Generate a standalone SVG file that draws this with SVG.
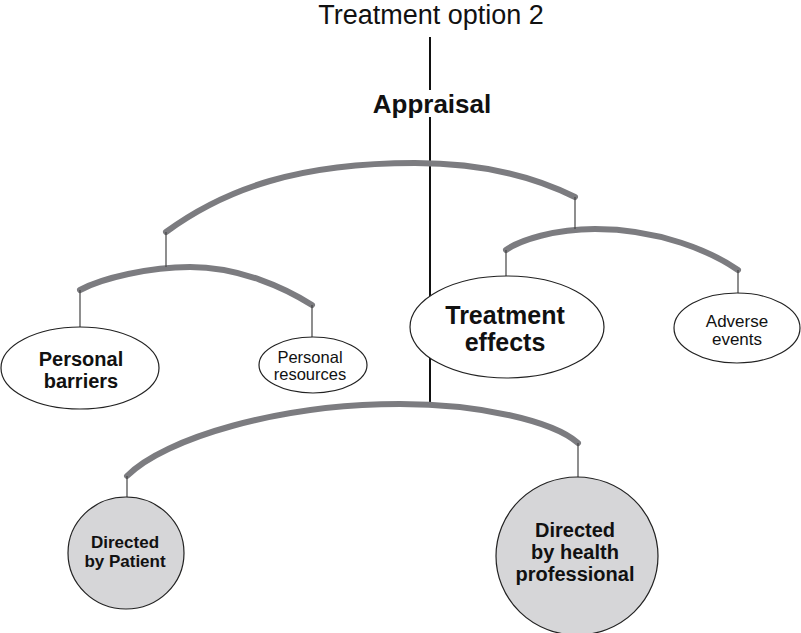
<svg xmlns="http://www.w3.org/2000/svg" width="801" height="633" viewBox="0 0 801 633">
<style>
.bar{fill:none;stroke:#7c7c80;stroke-width:6;stroke-linecap:round}
.hang{stroke:#444;stroke-width:1.2}
.main{stroke:#111;stroke-width:2}
.node{fill:#fff;stroke:#222;stroke-width:1.2}
.grey{fill:#d6d6d8;stroke:#222;stroke-width:1.2}
text{font-family:"Liberation Sans",Arial,sans-serif;fill:#111;text-anchor:middle}
.b{font-weight:bold}
</style>
<rect width="801" height="633" fill="#fff"/>
<g id="connectors">
<line class="main" x1="430" y1="37" x2="430" y2="90"/>
<line class="main" x1="430" y1="117" x2="430" y2="403"/>
<path class="bar" d="M166,232 C226,188 300,163 415,163 C470,163 525,172 575,197"/>
<path class="bar" d="M80,290 C102,278 150,267 190,267 C240,267 285,288 312,305"/>
<path class="bar" d="M506,250 C520,240 555,229 595,229 C660,229 712,252 738,270"/>
<path class="bar" d="M127,476 C165,438 280,404 400,404 C480,404 553,421 578,443"/>
<line class="hang" x1="166" y1="232" x2="166" y2="267"/>
<line class="hang" x1="575" y1="197" x2="575" y2="229"/>
<line class="hang" x1="80" y1="290" x2="80" y2="327"/>
<line class="hang" x1="312" y1="305" x2="312" y2="337"/>
<line class="hang" x1="506" y1="250" x2="506" y2="276"/>
<line class="hang" x1="738" y1="270" x2="738" y2="294"/>
<line class="hang" x1="127" y1="476" x2="127" y2="497"/>
<line class="hang" x1="578" y1="443" x2="578" y2="477"/>
</g>
<g id="title">
<text x="431" y="24" font-size="27">Treatment option 2</text>
</g>
<g id="appraisal">
<text class="b" x="432" y="113" font-size="26">Appraisal</text>
</g>
<g id="personal-barriers">
<ellipse class="node" cx="80" cy="368" rx="79" ry="41"/>
<text class="b" x="81" y="366" font-size="20">Personal</text>
<text class="b" x="81" y="388" font-size="20">barriers</text>
</g>
<g id="personal-resources">
<ellipse class="node" cx="313" cy="365" rx="54" ry="28"/>
<text x="310" y="363" font-size="16.5">Personal</text>
<text x="310" y="380" font-size="16.5">resources</text>
</g>
<g id="treatment-effects">
<ellipse class="node" cx="507" cy="327" rx="97" ry="51"/>
<text class="b" x="505" y="324" font-size="25">Treatment</text>
<text class="b" x="505" y="351" font-size="25">effects</text>
</g>
<g id="adverse-events">
<ellipse class="node" cx="737" cy="328" rx="63" ry="35"/>
<text x="737" y="327" font-size="17">Adverse</text>
<text x="737" y="345" font-size="17">events</text>
</g>
<g id="directed-patient">
<ellipse class="grey" cx="126" cy="553" rx="58" ry="56"/>
<text class="b" x="125" y="548" font-size="17">Directed</text>
<text class="b" x="125" y="567" font-size="17">by Patient</text>
</g>
<g id="directed-professional">
<ellipse class="grey" cx="577" cy="556" rx="81" ry="79"/>
<text class="b" x="575" y="537" font-size="20">Directed</text>
<text class="b" x="575" y="559" font-size="20">by health</text>
<text class="b" x="575" y="581" font-size="20">professional</text>
</g>
</svg>
